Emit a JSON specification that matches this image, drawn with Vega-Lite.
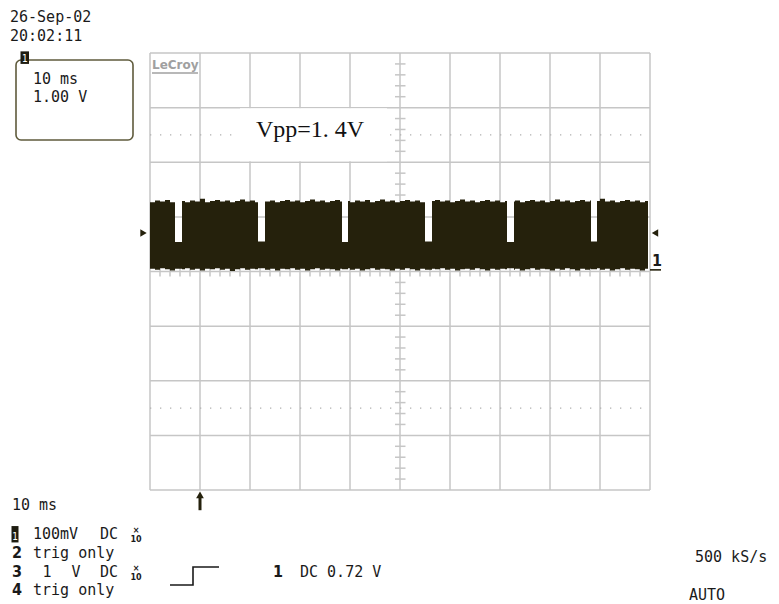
{
 "$schema": "https://vega.github.io/schema/vega-lite/v6.json",
 "width": 500, "height": 437,
 "autosize": {"type": "none"},
 "padding": {"left": 150, "top": 53, "right": 129, "bottom": 114},
 "background": "white",
 "config": {"view": {"stroke": null}, "axis": {"disable": true}, "legend": {"disable": true}},
 "datasets": {
  "band": [
   {"t":0.0,"hi":1.27,"lo":0.05},{"t":0.1,"hi":1.30,"lo":0.03},{"t":0.2,"hi":1.28,"lo":0.06},{"t":0.3,"hi":1.31,"lo":0.04},{"t":0.4,"hi":1.27,"lo":0.02},
   {"t":0.5,"hi":0.54,"lo":0.05},{"t":0.64,"hi":1.29,"lo":0.04},{"t":0.7,"hi":1.27,"lo":0.06},{"t":0.8,"hi":1.30,"lo":0.03},{"t":0.9,"hi":1.28,"lo":0.05},
   {"t":1.0,"hi":1.33,"lo":0.02},{"t":1.1,"hi":1.27,"lo":0.05},{"t":1.2,"hi":1.29,"lo":0.04},{"t":1.3,"hi":1.31,"lo":0.06},{"t":1.4,"hi":1.28,"lo":0.03},
   {"t":1.5,"hi":1.30,"lo":0.05},{"t":1.6,"hi":1.27,"lo":0.01},{"t":1.7,"hi":1.29,"lo":0.04},{"t":1.8,"hi":1.32,"lo":0.06},{"t":1.9,"hi":1.28,"lo":0.03},
   {"t":2.0,"hi":1.30,"lo":0.05},{"t":2.1,"hi":1.27,"lo":0.04},{"t":2.16,"hi":0.55,"lo":0.06},{"t":2.30,"hi":1.28,"lo":0.03},{"t":2.4,"hi":1.30,"lo":0.05},
   {"t":2.5,"hi":1.27,"lo":0.02},{"t":2.6,"hi":1.29,"lo":0.05},{"t":2.7,"hi":1.31,"lo":0.04},{"t":2.8,"hi":1.28,"lo":0.06},{"t":2.9,"hi":1.30,"lo":0.03},
   {"t":3.0,"hi":1.27,"lo":0.05},{"t":3.1,"hi":1.29,"lo":0.02},{"t":3.2,"hi":1.32,"lo":0.04},{"t":3.3,"hi":1.28,"lo":0.06},{"t":3.4,"hi":1.30,"lo":0.03},
   {"t":3.5,"hi":1.27,"lo":0.05},{"t":3.6,"hi":1.29,"lo":0.04},{"t":3.7,"hi":1.31,"lo":0.02},{"t":3.8,"hi":1.28,"lo":0.05},{"t":3.84,"hi":0.54,"lo":0.04},
   {"t":3.96,"hi":1.29,"lo":0.06},{"t":4.0,"hi":1.27,"lo":0.03},{"t":4.1,"hi":1.30,"lo":0.05},{"t":4.2,"hi":1.28,"lo":0.02},{"t":4.3,"hi":1.31,"lo":0.04},
   {"t":4.4,"hi":1.27,"lo":0.06},{"t":4.5,"hi":1.29,"lo":0.03},{"t":4.6,"hi":1.32,"lo":0.05},{"t":4.7,"hi":1.28,"lo":0.04},{"t":4.8,"hi":1.30,"lo":0.02},
   {"t":4.9,"hi":1.27,"lo":0.05},{"t":5.0,"hi":1.29,"lo":0.03},{"t":5.1,"hi":1.31,"lo":0.06},{"t":5.2,"hi":1.28,"lo":0.04},{"t":5.3,"hi":1.30,"lo":0.02},
   {"t":5.4,"hi":1.27,"lo":0.05},{"t":5.5,"hi":0.55,"lo":0.03},{"t":5.64,"hi":1.29,"lo":0.05},{"t":5.7,"hi":1.31,"lo":0.04},{"t":5.8,"hi":1.28,"lo":0.06},
   {"t":5.9,"hi":1.30,"lo":0.03},{"t":6.0,"hi":1.27,"lo":0.05},{"t":6.1,"hi":1.29,"lo":0.02},{"t":6.2,"hi":1.32,"lo":0.04},{"t":6.3,"hi":1.28,"lo":0.05},
   {"t":6.4,"hi":1.30,"lo":0.03},{"t":6.5,"hi":1.27,"lo":0.06},{"t":6.6,"hi":1.29,"lo":0.04},{"t":6.7,"hi":1.31,"lo":0.02},{"t":6.8,"hi":1.28,"lo":0.05},
   {"t":6.9,"hi":1.30,"lo":0.03},{"t":7.0,"hi":1.27,"lo":0.05},{"t":7.1,"hi":1.29,"lo":0.04},{"t":7.14,"hi":0.54,"lo":0.06},{"t":7.28,"hi":1.28,"lo":0.03},
   {"t":7.3,"hi":1.30,"lo":0.05},{"t":7.4,"hi":1.27,"lo":0.02},{"t":7.5,"hi":1.29,"lo":0.04},{"t":7.6,"hi":1.31,"lo":0.06},{"t":7.7,"hi":1.28,"lo":0.03},
   {"t":7.8,"hi":1.30,"lo":0.05},{"t":7.9,"hi":1.27,"lo":0.04},{"t":8.0,"hi":1.29,"lo":0.02},{"t":8.1,"hi":1.32,"lo":0.05},{"t":8.2,"hi":1.28,"lo":0.03},
   {"t":8.3,"hi":1.30,"lo":0.06},{"t":8.4,"hi":1.27,"lo":0.04},{"t":8.5,"hi":1.29,"lo":0.02},{"t":8.6,"hi":1.31,"lo":0.05},{"t":8.7,"hi":1.28,"lo":0.03},
   {"t":8.8,"hi":1.30,"lo":0.05},{"t":8.82,"hi":0.55,"lo":0.04},{"t":8.94,"hi":1.29,"lo":0.06},{"t":9.0,"hi":1.33,"lo":0.03},{"t":9.1,"hi":1.28,"lo":0.05},
   {"t":9.2,"hi":1.30,"lo":0.02},{"t":9.3,"hi":1.27,"lo":0.04},{"t":9.4,"hi":1.29,"lo":0.06},{"t":9.5,"hi":1.31,"lo":0.03},{"t":9.6,"hi":1.28,"lo":0.05},
   {"t":9.7,"hi":1.30,"lo":0.04},{"t":9.8,"hi":1.27,"lo":0.02},{"t":9.9,"hi":1.29,"lo":0.05},{"t":9.96,"hi":1.29,"lo":0.05}
  ],
  "vgrid": [{"gx":0},{"gx":1},{"gx":2},{"gx":3},{"gx":4},{"gx":5},{"gx":6},{"gx":7},{"gx":8},{"gx":9},{"gx":10}],
  "hgrid": [{"gy":-4},{"gy":-3},{"gy":-2},{"gy":-1},{"gy":0},{"gy":1},{"gy":2},{"gy":3},{"gy":4}],
  "dots": [{"dy":2.5},{"dy":-2.5}],
  "vticks": [{"cy":-3.8},{"cy":-3.6},{"cy":-3.4},{"cy":-3.2},{"cy":-2.8},{"cy":-2.6},{"cy":-2.4},{"cy":-2.2},{"cy":-1.8},{"cy":-1.6},{"cy":-1.4},{"cy":-1.2},{"cy":-0.8},{"cy":-0.6},{"cy":-0.4},{"cy":-0.2},
             {"cy":0.2},{"cy":0.4},{"cy":0.6},{"cy":0.8},{"cy":1.2},{"cy":1.4},{"cy":1.6},{"cy":1.8},{"cy":2.2},{"cy":2.4},{"cy":2.6},{"cy":2.8},{"cy":3.2},{"cy":3.4},{"cy":3.6},{"cy":3.8}],
  "hticks": [{"cx":0.2},{"cx":0.4},{"cx":0.6},{"cx":0.8},{"cx":1.2},{"cx":1.4},{"cx":1.6},{"cx":1.8},{"cx":2.2},{"cx":2.4},{"cx":2.6},{"cx":2.8},{"cx":3.2},{"cx":3.4},{"cx":3.6},{"cx":3.8},{"cx":4.2},{"cx":4.4},{"cx":4.6},{"cx":4.8},
             {"cx":5.2},{"cx":5.4},{"cx":5.6},{"cx":5.8},{"cx":6.2},{"cx":6.4},{"cx":6.6},{"cx":6.8},{"cx":7.2},{"cx":7.4},{"cx":7.6},{"cx":7.8},{"cx":8.2},{"cx":8.4},{"cx":8.6},{"cx":8.8},{"cx":9.2},{"cx":9.4},{"cx":9.6},{"cx":9.8}],
  "mask": [{"x1":1.8,"x2":4.74,"y1":2.99,"y2":2.02}],
  "panel": [{"x1":-2.68,"x2":-0.34,"y1":3.872,"y2":2.407}],
  "inv": [{"x1":-2.59,"x2":-2.42,"y1":4.03,"y2":3.80,"cx":-2.505,"cy":3.835,"label":"1"},
          {"x1":-2.77,"x2":-2.63,"y1":-4.66,"y2":-4.96,"cx":-2.70,"cy":-4.92,"label":"1"}],
  "mono": [
   {"px":-2.8,"py":4.57,"label":"26-Sep-02"},
   {"px":-2.8,"py":4.22,"label":"20:02:11"},
   {"px":-2.34,"py":3.43,"label":"10 ms"},
   {"px":-2.34,"py":3.10,"label":"1.00 V"},
   {"px":-2.76,"py":-4.37,"label":"10 ms"},
   {"px":-2.34,"py":-4.90,"label":"100mV"},
   {"px":-1.0,"py":-4.90,"label":"DC"},
   {"px":-2.34,"py":-5.245,"label":"trig only"},
   {"px":-2.15,"py":-5.59,"label":"1"},
   {"px":-1.57,"py":-5.59,"label":"V"},
   {"px":-1.0,"py":-5.59,"label":"DC"},
   {"px":-2.34,"py":-5.92,"label":"trig only"},
   {"px":3.0,"py":-5.59,"label":"DC 0.72 V"},
   {"px":10.9,"py":-5.32,"label":"500 kS/s"},
   {"px":10.78,"py":-6.01,"label":"AUTO"}
  ],
  "big": [
   {"px":-2.76,"py":-5.245,"label":"2"},
   {"px":-2.76,"py":-5.59,"label":"3"},
   {"px":-2.76,"py":-5.92,"label":"4"},
   {"px":2.46,"py":-5.59,"label":"1"},
   {"px":10.04,"py":0.10,"label":"1"}
  ],
  "tiny": [
   {"px":-0.28,"py":-4.79,"label":"×"},
   {"px":-0.28,"py":-4.95,"label":"10"},
   {"px":-0.28,"py":-5.49,"label":"×"},
   {"px":-0.28,"py":-5.65,"label":"10"}
  ],
  "step": [
   {"sx":0.4,"sy":-5.74,"o":0},{"sx":0.86,"sy":-5.74,"o":1},{"sx":0.86,"sy":-5.41,"o":2},{"sx":1.38,"sy":-5.41,"o":3}
  ],
  "markers": [
   {"mx":-0.13,"my":0.705,"shape":"triangle-right"},
   {"mx":10.1,"my":0.705,"shape":"triangle-left"}
  ]
 },
 "layer": [
  {"data":{"name":"vgrid"},"mark":{"type":"rule","color":"#c6c6c6","strokeWidth":1.5},
   "encoding":{"x":{"field":"gx","type":"quantitative","scale":{"domain":[0,10],"nice":false,"zero":false}}}},
  {"data":{"name":"hgrid"},"mark":{"type":"rule","color":"#c6c6c6","strokeWidth":1.5},
   "encoding":{"y":{"field":"gy","type":"quantitative","scale":{"domain":[-4,4],"nice":false,"zero":false}}}},
  {"data":{"name":"dots"},"mark":{"type":"rule","color":"#b0b0b0","strokeWidth":1.3,"strokeDash":[1.3,8.7]},
   "encoding":{"y":{"field":"dy","type":"quantitative"},"x":{"datum":0,"type":"quantitative"},"x2":{"datum":10}}},
  {"data":{"name":"vticks"},"mark":{"type":"rule","color":"#c6c6c6","strokeWidth":1.5},
   "encoding":{"y":{"field":"cy","type":"quantitative"},"x":{"datum":4.9,"type":"quantitative"},"x2":{"datum":5.11}}},
  {"data":{"name":"hticks"},"mark":{"type":"rule","color":"#c6c6c6","strokeWidth":1.5},
   "encoding":{"x":{"field":"cx","type":"quantitative"},"y":{"datum":-0.09,"type":"quantitative"},"y2":{"datum":0.09}}},
  {"data":{"name":"mask"},"mark":{"type":"rect","color":"white"},
   "encoding":{"x":{"field":"x1","type":"quantitative"},"x2":{"field":"x2"},"y":{"field":"y1","type":"quantitative"},"y2":{"field":"y2"}}},
  {"data":{"values":[{"px":2.12,"py":2.462,"label":"Vpp=1. 4V"}]},
   "mark":{"type":"text","font":"Liberation Serif","fontSize":24,"color":"#111111","align":"left","baseline":"alphabetic"},
   "encoding":{"x":{"field":"px","type":"quantitative"},"y":{"field":"py","type":"quantitative"},"text":{"field":"label"}}},
  {"data":{"values":[{"px":0.04,"py":3.707,"label":"LeCroy"}]},
   "mark":{"type":"text","font":"DejaVu Sans","fontSize":12,"fontWeight":"bold","color":"#a0a0a0","align":"left","baseline":"alphabetic"},
   "encoding":{"x":{"field":"px","type":"quantitative"},"y":{"field":"py","type":"quantitative"},"text":{"field":"label"}}},
  {"data":{"values":[{"ux1":0.04,"ux2":0.96,"uy":3.634}]},
   "mark":{"type":"rule","color":"#a0a0a0","strokeWidth":1.5},
   "encoding":{"x":{"field":"ux1","type":"quantitative"},"x2":{"field":"ux2"},"y":{"field":"uy","type":"quantitative"}}},
  {"data":{"name":"band"},"mark":{"type":"area","interpolate":"step-after","color":"#25210c"},
   "encoding":{"x":{"field":"t","type":"quantitative"},"y":{"field":"hi","type":"quantitative"},"y2":{"field":"lo"}}},
  {"data":{"name":"panel"},"mark":{"type":"rect","fill":null,"fillOpacity":0,"stroke":"#5f5b3c","strokeWidth":1.6,"cornerRadius":5},
   "encoding":{"x":{"field":"x1","type":"quantitative"},"x2":{"field":"x2"},"y":{"field":"y1","type":"quantitative"},"y2":{"field":"y2"}}},
  {"data":{"name":"inv"},"mark":{"type":"rect","color":"#1e1c10"},
   "encoding":{"x":{"field":"x1","type":"quantitative"},"x2":{"field":"x2"},"y":{"field":"y1","type":"quantitative"},"y2":{"field":"y2"}}},
  {"data":{"name":"inv"},"mark":{"type":"text","font":"DejaVu Sans Condensed","fontSize":10,"color":"white","align":"center","baseline":"alphabetic"},
   "encoding":{"x":{"field":"cx","type":"quantitative"},"y":{"field":"cy","type":"quantitative"},"text":{"field":"label"}}},
  {"data":{"name":"mono"},"mark":{"type":"text","font":"DejaVu Sans Mono","fontSize":15,"color":"#1a1a1a","align":"left","baseline":"alphabetic"},
   "encoding":{"x":{"field":"px","type":"quantitative"},"y":{"field":"py","type":"quantitative"},"text":{"field":"label"}}},
  {"data":{"name":"big"},"mark":{"type":"text","font":"Liberation Sans Narrow, DejaVu Sans Condensed, sans-serif","fontSize":16,"fontWeight":"bold","color":"#1a1a1a","align":"left","baseline":"alphabetic"},
   "encoding":{"x":{"field":"px","type":"quantitative"},"y":{"field":"py","type":"quantitative"},"text":{"field":"label"}}},
  {"data":{"name":"tiny"},"mark":{"type":"text","font":"DejaVu Sans","fontSize":8,"fontWeight":"bold","color":"#1a1a1a","align":"center","baseline":"alphabetic"},
   "encoding":{"x":{"field":"px","type":"quantitative"},"y":{"field":"py","type":"quantitative"},"text":{"field":"label"}}},
  {"data":{"name":"step"},"mark":{"type":"line","color":"#1a1a1a","strokeWidth":1.6,"clip":false},
   "encoding":{"x":{"field":"sx","type":"quantitative"},"y":{"field":"sy","type":"quantitative"},"order":{"field":"o"}}},
  {"data":{"values":[{"ax":1.0,"ay1":-4.12,"ay2":-4.37}]},
   "mark":{"type":"rule","color":"#25210c","strokeWidth":3},
   "encoding":{"x":{"field":"ax","type":"quantitative"},"y":{"field":"ay1","type":"quantitative"},"y2":{"field":"ay2"}}},
  {"data":{"values":[{"ax":1.0,"ay":-4.09}]},
   "mark":{"type":"point","shape":"triangle-up","filled":true,"size":60,"color":"#25210c","opacity":1},
   "encoding":{"x":{"field":"ax","type":"quantitative"},"y":{"field":"ay","type":"quantitative"}}},
  {"data":{"name":"markers"},
   "mark":{"type":"point","filled":true,"size":55,"color":"#25210c","opacity":1},
   "encoding":{"x":{"field":"mx","type":"quantitative"},"y":{"field":"my","type":"quantitative"},"shape":{"field":"shape","type":"nominal","scale":null}}},
  {"data":{"values":[{"ux1":10.0,"ux2":10.22,"uy":0.03}]},
   "mark":{"type":"rule","color":"#25210c","strokeWidth":1.6},
   "encoding":{"x":{"field":"ux1","type":"quantitative"},"x2":{"field":"ux2"},"y":{"field":"uy","type":"quantitative"}}}
 ]
}
